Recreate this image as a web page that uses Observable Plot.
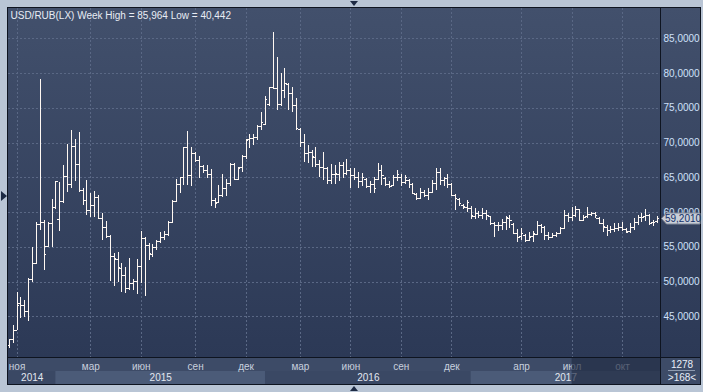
<!DOCTYPE html>
<html>
<head>
<meta charset="utf-8">
<script src="https://cdn.jsdelivr.net/npm/d3@7"></script>
<script src="https://cdn.jsdelivr.net/npm/@observablehq/plot@0.6"></script>
<style>
  html, body { margin: 0; padding: 0; }
  body { width: 703px; height: 392px; overflow: hidden; background: #b9c5d5; position: relative;
         font-family: "Liberation Sans", Arial, sans-serif; }
  .abs { position: absolute; }
  #frame { left: 7px; top: 7px; width: 694px; height: 378px; background: #0e1420; }
  #plotbg { left: 8px; top: 8px; width: 652px; height: 349px; background: linear-gradient(#42506c, #2c3956); }
  #rightbg { left: 661px; top: 8px; width: 39px; height: 349px; background: linear-gradient(#42506c, #2c3956); }
  #stripbg { left: 8px; top: 358px; width: 652px; height: 26px; background: #3d4b67; }
  #cornerbg { left: 661px; top: 358px; width: 39px; height: 26px; background: #3d4b67; }
  #main { left: 0; top: 0; }
  #strip { left: 0; top: 358px; }
  .tri { width: 0; height: 0; }
  #arrL { left: 1px; top: 191px; border-left: 6px solid #1d2a44; border-top: 5px solid transparent; border-bottom: 5px solid transparent; }
  #arrT { left: 350px; top: 1px; border-top: 5px solid #1d2a44; border-left: 4px solid transparent; border-right: 4px solid transparent; }
  #arrB { left: 350px; top: 386px; border-bottom: 5px solid #1d2a44; border-left: 4px solid transparent; border-right: 4px solid transparent; }
  .corner { left: 661px; width: 42px; text-align: center; color: #e8eef8; font-size: 10px; line-height: 10px; }
  #sep { left: 668px; top: 370px; width: 27px; height: 1px; background: #8d9ab0; }
</style>
</head>
<body>
<div id="frame" class="abs"></div>
<div id="plotbg" class="abs"></div>
<div id="rightbg" class="abs"></div>
<div id="stripbg" class="abs"></div>
<div id="cornerbg" class="abs"></div>
<div id="main" class="abs"></div>
<div id="strip" class="abs"></div>
<div id="arrL" class="abs tri"></div>
<div id="arrT" class="abs tri"></div>
<div id="arrB" class="abs tri"></div>
<div class="abs corner" style="top:360px">1278</div>
<div id="sep" class="abs"></div>
<div class="abs corner" style="top:373px">&gt;168&lt;</div>
<script>
// Weekly USD/RUB OHLC bars (one per bar index, Oct 2014 – Dec 2017)
const open = [40.9,41.8,43.0,46.9,46.6,45.7,50.3,52.6,58.3,58.6,
55.1,58.4,60.7,59.0,61.6,65.2,64.1,69.5,66.9,63.1,
61.8,60.3,61.0,62.2,59.1,57.8,56.5,53.7,53.3,52.0,
50.9,49.0,49.8,50.1,52.3,56.2,55.2,54.0,54.9,55.9,
56.4,56.9,58.5,61.6,64.0,65.0,69.3,65.3,68.5,67.5,
66.6,66.0,65.5,61.7,61.4,62.5,63.5,64.2,66.9,64.7,
66.5,68.0,70.5,70.6,70.85,72.4,72.7,75.6,78.0,77.9,
75.5,77.6,78.4,77.2,75.4,72.0,70.1,68.5,68.7,67.9,
66.9,66.5,66.4,64.6,65.5,65.5,66.7,65.6,66.0,65.3,
65.0,64.4,64.8,63.7,64.0,64.7,66.0,64.9,64.1,63.9,
65.1,65.1,64.3,64.6,64.0,62.6,62.0,62.9,62.5,62.9,
64.2,65.8,64.6,64.9,64.1,62.4,61.9,61.0,60.7,60.6,
59.5,59.8,59.6,59.8,59.4,58.4,58.2,58.1,58.5,59.2,
58.3,57.0,56.5,56.7,56.0,56.5,56.9,58.1,57.9,56.7,
56.4,56.7,57.0,57.7,59.6,59.3,59.6,60.4,58.9,59.4,
59.7,59.8,59.1,58.4,57.9,57.4,57.6,57.7,57.9,57.5,
57.2,57.9,58.6,59.3,59.4,59.6,58.5,58.7];
const high = [41.8,43.8,48.5,47.8,47.3,50.5,55.0,58.6,79.2,58.9,
58.5,61.9,64.5,64.3,66.8,69.8,71.8,70.5,71.5,63.4,
64.6,62.7,63.0,62.4,59.9,58.7,56.7,54.1,54.2,52.7,
52.15,53.35,50.3,53.25,57.3,56.4,55.5,55.4,56.0,57.1,
57.2,58.7,61.7,64.8,65.1,69.4,71.7,69.3,68.65,68.1,
66.7,66.8,66.15,62.0,63.9,65.5,64.7,67.0,67.0,66.5,
68.2,70.5,71.3,71.3,72.5,74.45,76.7,78.05,85.964,82.3,
80.0,80.7,78.5,78.05,76.4,72.05,71.3,69.65,68.9,69.4,
67.5,68.7,66.5,66.9,66.8,67.25,67.25,67.7,66.3,66.3,
65.8,65.6,64.9,64.4,65.0,67.0,66.8,65.0,64.4,65.3,
66.05,65.5,65.3,64.8,64.2,62.8,63.4,63.2,63.4,64.6,
66.3,66.4,65.1,65.5,64.15,62.6,62.0,61.1,61.75,60.8,
60.55,60.2,60.55,60.3,59.45,58.63,58.5,58.97,59.45,59.6,
58.4,57.53,57.67,56.8,57.19,57.33,58.77,58.3,58.05,57.19,
57.05,57.19,57.91,60.31,59.83,60.79,60.89,60.5,59.59,60.79,
60.07,60.0,59.3,58.97,58.1,58.05,58.39,58.39,58.53,57.67,
58.49,59.11,59.59,59.9,60.4,59.7,58.87,59.45];
const low = [40.442,41.1,43.0,44.8,44.95,44.3,50.0,52.5,57.4,51.7,
54.9,54.9,60.5,57.3,61.3,62.9,63.4,64.4,62.9,61.0,
59.6,59.3,59.3,59.1,56.0,56.2,50.1,49.3,50.0,48.55,
48.4,48.8,48.8,48.2,49.75,47.97,53.1,53.5,54.5,55.5,
56.0,56.6,58.4,61.5,62.7,63.9,63.9,63.7,67.25,64.9,
65.6,64.9,60.8,60.6,61.3,62.2,62.3,63.8,64.6,64.6,
65.7,67.7,69.2,69.65,70.4,71.8,72.5,75.2,77.8,74.7,
75.2,76.4,74.7,74.45,71.8,69.4,67.25,67.0,66.5,66.5,
65.1,64.6,64.0,64.1,64.1,64.4,64.9,65.3,63.4,64.6,
63.4,63.7,63.4,62.7,62.7,64.6,63.9,63.7,63.4,63.7,
64.4,63.7,64.1,63.4,62.6,61.8,61.9,62.2,61.8,62.8,
63.2,63.9,63.7,63.4,62.25,60.3,60.8,60.5,60.07,58.97,
58.97,59.1,58.97,58.87,58.15,56.47,57.33,57.43,57.43,57.67,
56.95,55.75,55.99,55.75,55.9,55.75,56.71,56.95,55.99,55.99,
56.33,56.47,56.85,57.5,58.63,58.77,59.35,58.77,58.7,59.2,
59.5,59.11,58.25,57.19,56.57,57.05,57.19,57.29,57.33,56.95,
57.0,57.43,58.15,58.63,58.77,58.15,58.01,58.49];
const close = [41.7,43.0,46.6,46.6,45.7,50.3,52.6,58.3,58.6,53.9,
58.4,60.7,64.4,61.6,65.2,64.1,69.5,66.9,63.1,61.7,
60.3,61.0,62.2,59.2,57.8,56.6,53.7,53.35,52.05,50.95,
49.0,49.8,50.1,52.3,56.2,55.2,54.1,54.9,55.9,56.4,
56.9,58.5,61.6,64.0,65.0,69.3,65.3,68.55,67.5,66.6,
66.0,65.5,61.7,61.35,62.5,63.5,64.2,66.9,64.7,66.4,
68.0,70.4,70.6,70.85,72.4,73.0,76.3,78.0,77.9,75.55,
77.6,78.6,77.2,75.4,72.05,70.1,68.55,68.7,68.0,66.9,
66.5,66.4,64.6,65.5,65.6,66.7,65.6,66.05,65.3,65.0,
64.4,65.1,63.7,64.0,63.4,66.0,65.3,64.1,63.8,65.1,
65.5,64.3,65.1,64.0,62.7,62.0,62.9,62.5,62.9,64.2,
65.8,64.6,64.9,64.1,62.5,62.0,61.3,60.8,61.5,59.6,
59.8,59.6,59.8,59.6,58.4,58.2,58.15,58.5,59.25,58.87,
57.05,56.47,57.05,56.0,56.47,56.95,58.15,57.91,56.71,56.37,
56.71,56.95,57.67,59.59,59.35,59.59,60.41,58.87,59.35,59.73,
59.8,59.59,58.39,58.01,57.43,57.6,57.67,57.9,57.53,57.19,
57.9,58.63,59.25,59.35,59.59,58.49,58.63,59.201];

// Axis labels
const yTicks = [45, 50, 55, 60, 65, 70, 75, 80, 85];
const monthLabels = ["ноя","мар","июн","сен","дек","мар","июн","сен","дек","апр","июл","окт"];
const monthBars   = [2, 21, 34, 48, 61, 75, 88, 101, 114, 132, 145, 158];
const yearLabels  = ["2014", "2015", "2016", "2017"];
const yearBars    = [0, 12, 66, 119];
const instrument  = "USD/RUB(LX) Week";
const barsVisible = 168;

const xDomain = [-0.216, barsVisible - 0.22];
const yDomain = [39.14, 89.36];
const fmtY = v => v.toFixed(4).replace(".", ",");
const fmt3 = v => v.toFixed(3).replace(".", ",");

const bars = close.map((c, i) => ({i, open: open[i], high: high[i], low: low[i], close: c}));
const months = monthLabels.map((label, k) => ({label, i: monthBars[k]}));
const years = yearLabels.map((label, k) => ({
  label,
  start: k === 0 ? xDomain[0] : yearBars[k],
  end: k === yearLabels.length - 1 ? xDomain[1] : yearBars[k + 1],
  k
}));
const windowRange = [{x1: monthBars[monthBars.length - 2], x2: xDomain[1]}];
const title = `${instrument} High = ${fmt3(d3.max(high))} Low = ${fmt3(d3.min(low))}`;
const lastClose = close[close.length - 1];

const barColor = "#fff8f2";
const gridColor = "#5a6885";
const tickHalf = 0.6;

function priceTag(index, scales, values, dims) {
  const y = Math.round(scales.y(lastClose)) + 0.5;
  const x = dims.width - dims.marginRight;
  const g = d3.create("svg:g");
  g.append("path")
    .attr("d", `M${x + 1.5},${y} L${x + 6.5},${y - 5.5} H${x + 40} V${y + 5.5} H${x + 6.5} Z`)
    .attr("fill", "#c9ced6").attr("stroke", "#7f889a");
  g.append("text")
    .attr("x", x + 23).attr("y", y).attr("dy", "0.36em")
    .attr("text-anchor", "middle").attr("fill", "#14306a")
    .attr("font-size", 10).text(fmtY(lastClose));
  return g.node();
}

const baseStyle = {background: "transparent", fontFamily: "Liberation Sans, Arial, sans-serif", fontSize: "10px", overflow: "visible"};

const main = Plot.plot({
  width: 703, height: 358,
  marginLeft: 8, marginRight: 43, marginTop: 8, marginBottom: 1,
  x: {domain: xDomain, axis: null},
  y: {domain: yDomain, axis: null},
  style: baseStyle,
  marks: [
    Plot.ruleY(yTicks, {y: d => d, stroke: gridColor, strokeDasharray: "2,2", shapeRendering: "crispEdges"}),
    Plot.ruleX(monthBars, {x: d => d, stroke: gridColor, strokeDasharray: "2,2", shapeRendering: "crispEdges"}),
    Plot.ruleX(bars, {x: "i", y1: "low", y2: "high", stroke: barColor, shapeRendering: "crispEdges", clip: true}),
    Plot.ruleY(bars, {y: "open", x1: d => d.i - tickHalf, x2: "i", stroke: barColor, shapeRendering: "crispEdges", clip: true}),
    Plot.ruleY(bars, {y: "close", x1: "i", x2: d => d.i + tickHalf, stroke: barColor, shapeRendering: "crispEdges", clip: true}),
    Plot.text(yTicks, {y: d => d, text: fmtY, frameAnchor: "right", textAnchor: "start", dx: 3, fill: "#cfe0fa"}),
    Plot.text([title], {frameAnchor: "top-left", dx: 2, dy: 3, fill: "#e8ecf4"}),
    priceTag
  ]
});
document.getElementById("main").appendChild(main);

const strip = Plot.plot({
  width: 703, height: 26,
  marginLeft: 8, marginRight: 43, marginTop: 0, marginBottom: 0,
  x: {domain: xDomain, axis: null},
  y: {type: "band", domain: ["m", "y"], padding: 0, axis: null},
  style: baseStyle,
  marks: [
    Plot.barX(years.filter(d => d.k % 2 === 0), {x1: "start", x2: "end", y: () => "y", fill: "#3a4864"}),
    Plot.barX(years.filter(d => d.k % 2 === 1), {x1: "start", x2: "end", y: () => "y", fill: "#4b5b78"}),
    Plot.text(months, {x: "i", y: () => "m", text: "label", fill: "#c8d0de", dy: 2}),
    Plot.text(years, {x: d => (d.start + d.end) / 2, y: () => "y", text: "label", fill: "#e2e7f0", dy: -0.5}),
    Plot.rect(windowRange, {x1: "x1", x2: "x2", fill: "#222c44", fillOpacity: 0.68})
  ]
});
document.getElementById("strip").appendChild(strip);
</script>
</body>
</html>
